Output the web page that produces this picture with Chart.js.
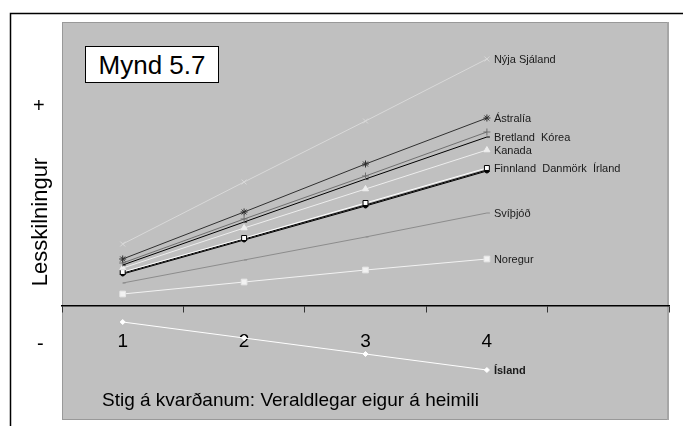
<!DOCTYPE html>
<html>
<head>
<meta charset="utf-8">
<script src="https://cdn.jsdelivr.net/npm/chart.js@4"></script>
<style>
  body { margin: 0; background: #fff; font-family: "Liberation Sans", Arial, sans-serif; }
  #wrap { position: relative; width: 683px; height: 426px; overflow: hidden; }
  #chart { position: absolute; left: 0; top: 0; }
  .txt { position: absolute; color: #000; white-space: nowrap; line-height: 1; }
  #mynd { left: 85px; top: 46px; width: 132px; height: 35px; border: 1px solid #000; background: #fff;
          font-size: 26px; text-align: center; line-height: 36px; }
  #plus { left: 33px; top: 95px; font-size: 20px; }
  #minus { left: 37px; top: 333px; font-size: 20px; }
  #ylab { left: 40px; top: 222px; font-size: 22px; transform: translate(-50%, -50%) rotate(-90deg); }
  #xlab { left: 102px; top: 390px; font-size: 19px; }
</style>
</head>
<body>
<div id="wrap">
  <canvas id="chart" width="683" height="426"></canvas>
  <div class="txt" id="mynd">Mynd 5.7</div>
  <div class="txt" id="plus">+</div>
  <div class="txt" id="ylab">Lesskilningur</div>
  <div class="txt" id="minus">-</div>
  <div class="txt" id="xlab">Stig á kvarðanum: Veraldlegar eigur á heimili</div>
</div>
<script>
// stig a kvardanum (5. flokkur er audur)
const categories = ['1', '2', '3', '4', ''];

// lesskilningur, afstaedar einingar
const nyjaSjaland = [6.2, 12.4, 18.5, 24.7];
const astralia    = [4.7, 9.4, 14.2, 18.8];
const bretland    = [4.3, 8.7, 13.0, 17.4];
const korea       = [4.1, 8.4, 12.7, 16.9];
const kanada      = [3.8, 7.8, 11.7, 15.6];
const finnland    = [3.4, 6.8, 10.3, 13.8];
const danmork     = [3.3, 6.7, 10.1, 13.6];
const irland      = [3.2, 6.6, 10.0, 13.5];
const svithjod    = [2.3, 4.6, 6.9, 9.3];
const noregur     = [1.2, 2.4, 3.6, 4.7];
const island      = [-1.6, -3.2, -4.8, -6.4];

const yMin = -11.4;
const yMax = 28.4;

function series(label, data, color, style, radius, fill, border, endLabel, bold) {
  return {
    label, data,
    borderColor: color,
    borderWidth: 1,
    pointStyle: style,
    pointRadius: radius,
    pointBackgroundColor: fill,
    pointBorderColor: border,
    pointBorderWidth: 1,
    fill: false,
    tension: 0,
    endLabel, bold
  };
}

const datasets = [
  series('Nýja Sjáland', nyjaSjaland, '#d9d9d9', 'crossRot', 3.5, '#d9d9d9', '#d9d9d9', 'Nýja Sjáland'),
  series('Ástralía', astralia, '#303030', 'star', 3.5, '#303030', '#303030', 'Ástralía'),
  series('Bretland', bretland, '#707070', 'cross', 3.5, '#707070', '#707070', ''),
  series('Kórea', korea, '#000000', 'dash', 3, '#000000', '#000000', 'Bretland  Kórea'),
  series('Kanada', kanada, '#eeeeee', 'triangle', 3.5, '#eeeeee', '#eeeeee', 'Kanada'),
  series('Finnland', finnland, '#ffffff', 'rect', 3.5, '#ffffff', '#000000', 'Finnland  Danmörk  Írland'),
  series('Danmörk', danmork, '#000000', 'triangle', 3, '#ffffff', '#000000', ''),
  series('Írland', irland, '#000000', 'circle', 2, '#000000', '#000000', ''),
  series('Svíþjóð', svithjod, '#8c8c8c', 'dash', 3, '#8c8c8c', '#8c8c8c', 'Svíþjóð'),
  series('Noregur', noregur, '#f2f2f2', 'rect', 4, '#f2f2f2', '#e6e6e6', 'Noregur'),
  series('Ísland', island, '#ffffff', 'rectRot', 2.5, '#ffffff', '#ffffff', 'Ísland', true)
];

// gra bakgrunnur og rammi
const backdrop = {
  id: 'backdrop',
  beforeDraw(chart) {
    const { ctx, chartArea: a } = chart;
    ctx.save();
    ctx.strokeStyle = '#000';
    ctx.lineWidth = 1.5;
    ctx.beginPath();
    ctx.moveTo(10.5, 430);
    ctx.lineTo(10.5, 13.5);
    ctx.lineTo(690, 13.5);
    ctx.stroke();
    ctx.fillStyle = '#c0c0c0';
    ctx.fillRect(a.left, a.top, a.right - a.left, a.bottom - a.top);
    ctx.strokeStyle = '#999';
    ctx.lineWidth = 1;
    ctx.strokeRect(a.left + 0.5, a.top + 0.5, a.right - a.left - 1, a.bottom - a.top - 1);
    ctx.fillStyle = '#a6a6a6';
    ctx.fillRect(a.right - 2, a.top, 2, a.bottom - a.top);
    ctx.restore();
  }
};

// nofn landa vid sidasta punkt
const endLabels = {
  id: 'endLabels',
  afterDatasetsDraw(chart) {
    const ctx = chart.ctx;
    ctx.save();
    ctx.fillStyle = '#1a1a1a';
    ctx.textBaseline = 'middle';
    chart.data.datasets.forEach((ds, i) => {
      if (!ds.endLabel) return;
      const pt = chart.getDatasetMeta(i).data[ds.data.length - 1];
      ctx.font = (ds.bold ? 'bold ' : '') + '11px "Liberation Sans", Arial, sans-serif';
      ctx.fillText(ds.endLabel, pt.x + 7, pt.y + 1);
    });
    ctx.restore();
  }
};

new Chart(document.getElementById('chart'), {
  type: 'line',
  data: { labels: categories, datasets },
  options: {
    responsive: false,
    animation: false,
    layout: { padding: { left: 62, top: 22, right: 14, bottom: 6 } },
    plugins: { legend: { display: false }, tooltip: { enabled: false } },
    scales: {
      x: {
        position: { y: 0 },
        offset: true,
        afterFit: s => { s.height = 0; },
        grid: { offset: true, drawOnChartArea: false, tickLength: 6, tickColor: '#333' },
        border: { color: '#000', width: 1.5 },
        ticks: { color: '#000', padding: 18, font: { size: 19, family: '"Liberation Sans", Arial' } }
      },
      y: { display: false, min: yMin, max: yMax }
    }
  },
  plugins: [backdrop, endLabels]
});
</script>
</body>
</html>
